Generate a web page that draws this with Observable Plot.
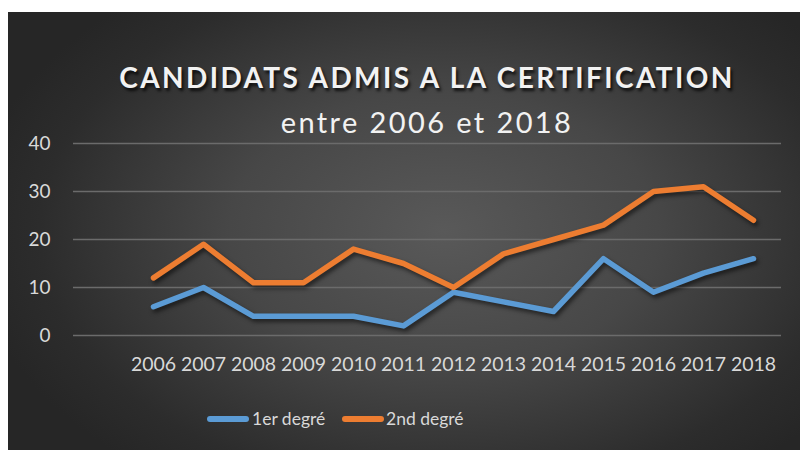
<!DOCTYPE html>
<html>
<head>
<meta charset="utf-8">
<script src="https://cdn.jsdelivr.net/npm/d3@7"></script>
<script src="https://cdn.jsdelivr.net/npm/@observablehq/plot@0.6"></script>
<style>
  html, body { margin: 0; padding: 0; background: #ffffff; }
  #wrap { position: relative; width: 800px; height: 450px; overflow: hidden; font-family: Lato, "Open Sans", sans-serif; }
  #bg { position: absolute; left: 8px; top: 12px; width: 792px; height: 438px;
        background: radial-gradient(ellipse 60% 70% at 55% 50%, #595959 0%, #474747 45%, #2c2c2c 85%, #262626 100%); }
  .title { position: absolute; left: 0; width: 854px; text-align: center; color: #f2f2f2; white-space: nowrap; }
  #t1 { top: 63px; font-size: 28px; line-height: 28px; font-weight: 700; letter-spacing: 2.4px; text-shadow: 2px 3px 3px rgba(0,0,0,0.75); }
  #t2 { top: 108px; font-size: 29px; line-height: 28px; font-weight: 400; letter-spacing: 2.4px; }
  #chart { position: absolute; left: 0; top: 120px; }
  #chart svg { background: transparent; overflow: visible; }
  #chart svg g[aria-label="line"] { filter: drop-shadow(2px 3px 2px rgba(0,0,0,0.55)); }
  #legend { position: absolute; top: 410px; left: 0; height: 18px; font-size: 17.5px; line-height: 18px; color: #d9d9d9; }
  .item { position: absolute; top: 0; white-space: nowrap; }
  .sw { position: absolute; top: 6px; height: 6px; border-radius: 3px; }
</style>
</head>
<body>
<div id="wrap">
  <div id="bg"></div>
  <div class="title" id="t1">CANDIDATS ADMIS A LA CERTIFICATION</div>
  <div class="title" id="t2">entre 2006 et 2018</div>
  <div id="chart"></div>
  <div id="legend"></div>
</div>
<script>
const years = ["2006","2007","2008","2009","2010","2011","2012","2013","2014","2015","2016","2017","2018"];
const premierDegre = [6, 10, 4, 4, 4, 2, 9, 7, 5, 16, 9, 13, 16];
const secondDegre = [12, 19, 11, 11, 18, 15, 10, 17, 20, 23, 30, 31, 24];
const seriesNames = ["1er degré", "2nd degré"];
const seriesColors = ["#5B9BD5", "#ED7D31"];
const yTicks = [0, 10, 20, 30, 40];

const rows = [];
years.forEach((y, i) => {
  rows.push({year: y, value: premierDegre[i], serie: seriesNames[0]});
  rows.push({year: y, value: secondDegre[i], serie: seriesNames[1]});
});

const plot = Plot.plot({
  width: 800,
  height: 250,
  marginTop: 23,
  marginBottom: 35,
  marginLeft: 73,
  marginRight: 19,
  style: {background: "transparent", color: "#d9d9d9", fontFamily: "Lato, 'Open Sans', sans-serif", fontSize: "18px"},
  x: {type: "point", domain: years, range: [148, 758], padding: 0, label: null},
  y: {domain: [0, 40], label: null},
  color: {domain: seriesNames, range: seriesColors},
  marks: [
    Plot.ruleY(yTicks, {stroke: "#6b6b6b", strokeWidth: 1.5}),
    Plot.axisY(yTicks, {tickSize: 0, tickPadding: 23, label: null, fill: "#d9d9d9", fontSize: 19}),
    Plot.axisX({tickSize: 0, tickPadding: 22, label: null, fill: "#d9d9d9", fontSize: 19.5}),
    Plot.line(rows, {x: "year", y: "value", z: "serie", stroke: "serie", strokeWidth: 5.5, strokeLinecap: "round", strokeLinejoin: "round"})
  ]
});
document.getElementById("chart").appendChild(plot);

const legend = document.getElementById("legend");
const legendPos = [{sw: 207, tx: 252}, {sw: 342, tx: 386}];
seriesNames.forEach((name, i) => {
  const sw = document.createElement("div");
  sw.className = "sw";
  sw.style.left = legendPos[i].sw + "px";
  sw.style.width = "42px";
  sw.style.background = seriesColors[i];
  legend.appendChild(sw);
  const t = document.createElement("div");
  t.className = "item";
  t.style.left = legendPos[i].tx + "px";
  t.textContent = name;
  legend.appendChild(t);
});
</script>
</body>
</html>
